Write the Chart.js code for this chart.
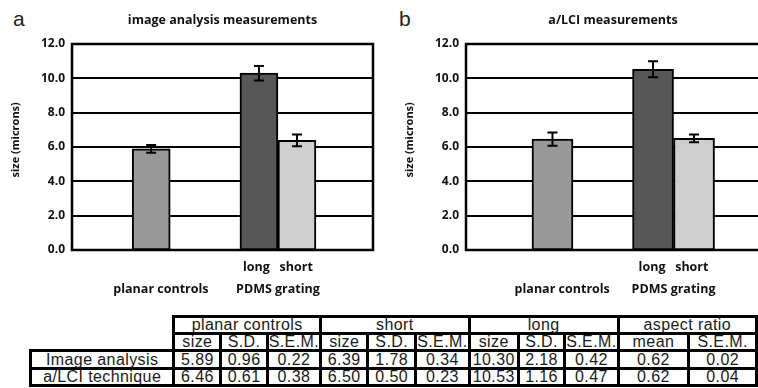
<!DOCTYPE html>
<html><head><meta charset="utf-8">
<script src="https://cdn.jsdelivr.net/npm/chart.js@4/dist/chart.umd.min.js"></script>
<style>
html,body{margin:0;padding:0;background:#fff;width:758px;height:388px;overflow:hidden;position:relative;}
.letter{position:absolute;font-family:'Liberation Sans',Arial,sans-serif;font-size:21px;color:#222;line-height:1;}
canvas{position:absolute;top:0;}
#ca{left:0;}
#cb{left:394px;}
table{position:absolute;left:29px;top:315px;border-collapse:collapse;table-layout:fixed;font-family:'Liberation Sans',Arial,sans-serif;font-size:16px;letter-spacing:0.4px;color:#1a1a1a;}
td{border:3px solid #000;padding:0;text-align:center;line-height:14px;white-space:nowrap;overflow:visible;}
tr:nth-child(1) td{height:14px;}
tr:nth-child(2) td{height:12px;}
tr:nth-child(3) td{height:13px;}
tr:nth-child(4) td{height:15px;}
td.blank{border:none;}
</style></head>
<body>
<div class="letter" style="left:13px;top:8px;">a</div>
<div class="letter" style="left:399px;top:8px;">b</div>
<canvas id="ca" width="390" height="305"></canvas>
<canvas id="cb" width="390" height="305"></canvas>
<table id="tbl"></table>
<script>
// ---- data ----
const methods = ['Image analysis', 'a/LCI technique'];
const groupNames = ['planar controls', 'short', 'long', 'aspect ratio'];
const statNames = ['size', 'S.D.', 'S.E.M.'];
const aspectStatNames = ['mean', 'S.E.M.'];
const planarSize = [5.89, 6.46], planarSD = [0.96, 0.61], planarSEM = [0.22, 0.38];
const shortSize  = [6.39, 6.50], shortSD  = [1.78, 0.50], shortSEM  = [0.34, 0.23];
const longSize   = [10.30, 10.53], longSD = [2.18, 1.16], longSEM   = [0.42, 0.47];
const aspectMean = [0.62, 0.62], aspectSEM = [0.02, 0.04];
const panelTitles = ['image analysis measurements', 'a/LCI measurements'];
const xSlotsA = ['', '', '', '', '', 'planar controls', '', '', '', '', '', '', '', 'PDMS grating', '', '', '', '', '', ''];
const xSlotsB = ['', '', '', '', '', 'planar controls', '', '', '', '', '', '', 'PDMS grating', '', '', '', '', ''];
const xTickLines = { 'planar controls': ['', '      planar controls'], 'PDMS grating': ['long   short', 'PDMS grating'] };
const yAxisTitle = '     size (microns)';

// ---- plugins ----
const errorBars = {
  id: 'errorBars',
  afterDatasetsDraw(chart) {
    const ctx = chart.ctx, y = chart.scales.y;
    ctx.save(); ctx.strokeStyle = '#000'; ctx.lineWidth = 2;
    chart.data.datasets.forEach((ds, i) => {
      const meta = chart.getDatasetMeta(i);
      meta.data.forEach((el, j) => {
        const v = ds.data[j], e = ds.errors[j];
        if (v == null || e == null) return;
        const x = el.x, yt = y.getPixelForValue(v + e), yb = y.getPixelForValue(v - e);
        ctx.beginPath();
        ctx.moveTo(x, yb); ctx.lineTo(x, yt);
        ctx.moveTo(x - 5, yb); ctx.lineTo(x + 5, yb);
        ctx.moveTo(x - 5, yt); ctx.lineTo(x + 5, yt);
        ctx.stroke();
      });
    });
    ctx.restore();
  }
};
const frameAndGrid = {
  id: 'frameAndGrid',
  beforeDatasetsDraw(chart) {
    const a = chart.chartArea, ctx = chart.ctx, y = chart.scales.y;
    ctx.save(); ctx.strokeStyle = '#000'; ctx.lineWidth = 2;
    y.ticks.forEach(t => {
      const py = Math.round(y.getPixelForValue(t.value));
      ctx.beginPath(); ctx.moveTo(a.left, py); ctx.lineTo(a.right, py); ctx.stroke();
    });
    ctx.lineWidth = 2.5;
    ctx.strokeRect(a.left, a.top, a.right - a.left, a.bottom - a.top);
    ctx.restore();
  }
};

const FONT = "'Open Sans', 'DejaVu Sans', sans-serif";
function pick(slots, name, vals, m) { return slots.map(l => l === name ? vals[m] : null); }

function makeChart(id, m, slots, thickness, rightPad) {
  const datasets = [
    { data: pick(slots, 'planar controls', planarSize, m), errors: pick(slots, 'planar controls', planarSEM, m), backgroundColor: '#999999' },
    { data: pick(slots, 'PDMS grating', longSize, m), errors: pick(slots, 'PDMS grating', longSEM, m), backgroundColor: '#575757' },
    { data: pick(slots, 'PDMS grating', shortSize, m), errors: pick(slots, 'PDMS grating', shortSEM, m), backgroundColor: '#cecece' }
  ];
  datasets.forEach(d => { d.borderColor = '#000'; d.borderWidth = 2; d.borderSkipped = false; d.barThickness = thickness; d.skipNull = true; });
  return new Chart(document.getElementById(id), {
    type: 'bar',
    data: { labels: slots, datasets },
    options: {
      responsive: false, animation: false, devicePixelRatio: 1,
      layout: { padding: { left: 0, right: rightPad, top: 0, bottom: 0 } },
      plugins: {
        legend: { display: false }, tooltip: { enabled: false },
        title: { display: true, fullSize: false, text: panelTitles[m], color: '#111',
                 font: { family: FONT, size: 12.5, weight: 'bold' }, padding: { top: 13, bottom: 16 } }
      },
      scales: {
        x: {
          type: 'category', offset: false,
          grid: { display: false }, border: { display: false },
          ticks: { autoSkip: false, maxRotation: 0, minRotation: 0, padding: -2, color: '#111',
                   font: { family: FONT, size: 12.5, weight: 'bold', lineHeight: '22px' },
                   callback(v) { const l = this.getLabelForValue(v); return xTickLines[l] || ''; } },
          afterFit(s) { s.height = 55; }
        },
        y: {
          min: 0, max: 12,
          grid: { display: false, drawTicks: false },
          border: { display: false },
          ticks: { stepSize: 2, padding: 7, color: '#111', font: { family: FONT, size: 12, weight: 'bold' },
                   callback: v => Number(v).toFixed(1) },
          title: { display: true, text: yAxisTitle, color: '#111', font: { family: FONT, size: 11, weight: 'bold' }, padding: { top: 9, bottom: 0 } },
          afterFit(s) { s.width = 72; }
        }
      }
    },
    plugins: [frameAndGrid, errorBars]
  });
}
makeChart('ca', 0, xSlotsA, 38, 17);
makeChart('cb', 1, xSlotsB, 41, 24);

// ---- table ----
const colWidths = [147, 49, 48, 49, 49, 50, 49, 50, 48, 50, 75, 70];
const tbl = document.getElementById('tbl');
const cg = document.createElement('colgroup');
colWidths.forEach(w => { const c = document.createElement('col'); c.style.width = w + 'px'; cg.appendChild(c); });
tbl.appendChild(cg);
function addRow(cells) {
  const tr = document.createElement('tr');
  cells.forEach(c => { const td = document.createElement('td'); td.textContent = c.t; if (c.span) td.colSpan = c.span; if (c.cls) td.className = c.cls; tr.appendChild(td); });
  tbl.appendChild(tr);
}
addRow([{ t: '', cls: 'blank' }].concat(groupNames.map((g, i) => ({ t: g, span: i === 3 ? 2 : 3 }))));
addRow([{ t: '', cls: 'blank' }].concat(statNames, statNames, statNames, aspectStatNames).map(s => typeof s === 'string' ? { t: s } : s));
methods.forEach((name, m) => {
  const vals = [planarSize, planarSD, planarSEM, shortSize, shortSD, shortSEM, longSize, longSD, longSEM, aspectMean, aspectSEM].map(a => a[m].toFixed(2));
  addRow([{ t: name }].concat(vals.map(v => ({ t: v }))));
});
</script>
</body></html>
